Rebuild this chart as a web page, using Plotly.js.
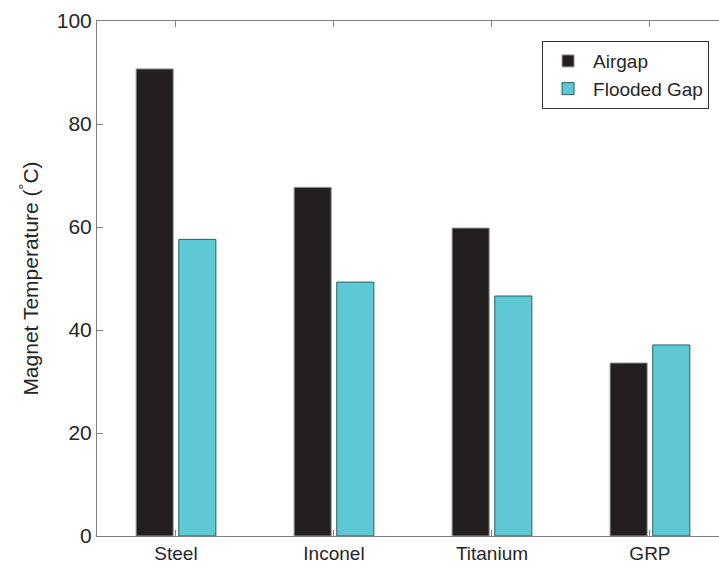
<!DOCTYPE html>
<html>
<head>
<meta charset="utf-8">
<script src="https://cdn.plot.ly/plotly-3.0.1.min.js"></script>
<style>html,body{margin:0;padding:0;background:#fff;}#chart{width:719px;height:574px;}</style>
</head>
<body>
<div id="chart"></div>
<script>
var categories = ["Steel", "Inconel", "Titanium", "GRP"];
var airgap = [90.7, 67.7, 59.8, 33.6];
var flooded = [57.6, 49.3, 46.6, 37.1];
var yTicks = [0, 20, 40, 60, 80, 100];

var traces = [
  {type: 'bar', name: 'Airgap', x: categories, y: airgap,
   marker: {color: '#231f20', line: {color: '#9a9a9a', width: 1}}},
  {type: 'bar', name: 'Flooded Gap', x: categories, y: flooded,
   marker: {color: '#5ec8d4', line: {color: '#2b5e64', width: 1}}}
];

var layout = {
  width: 719, height: 574,
  margin: {l: 97, r: 0, t: 21, b: 38},
  paper_bgcolor: '#fff', plot_bgcolor: '#fff',
  font: {family: 'Liberation Sans, Arial, sans-serif', color: '#262626'},
  barmode: 'group', bargap: 0.46, bargroupgap: 0.13,
  showlegend: true,
  legend: {x: 0.984, y: 0.961, xanchor: 'right', yanchor: 'top',
           bordercolor: '#333', borderwidth: 1, bgcolor: '#fff',
           font: {size: 19, color: '#262626'}, tracegroupgap: 0, itemwidth: 40},
  xaxis: {
    type: 'category', range: [-0.5, 3.437],
    showline: true, linecolor: '#808080', linewidth: 1, mirror: 'ticks',
    ticks: 'inside', ticklen: 6, tickcolor: '#808080',
    tickfont: {size: 19, color: '#262626'}, showgrid: false, zeroline: false
  },
  yaxis: {
    range: [0, 100], tickvals: yTicks, ticktext: yTicks.map(String),
    showline: true, linecolor: '#808080', linewidth: 1, mirror: false,
    ticks: 'inside', ticklen: 6, tickcolor: '#808080',
    tickfont: {size: 21, color: '#262626'}, showgrid: false, zeroline: false,
    title: {text: 'Magnet Temperature (<sup>°</sup>C)', font: {size: 21, color: '#262626'}, standoff: 12}
  }
};

Plotly.newPlot('chart', traces, layout, {displayModeBar: false, staticPlot: true});
</script>
</body>
</html>
